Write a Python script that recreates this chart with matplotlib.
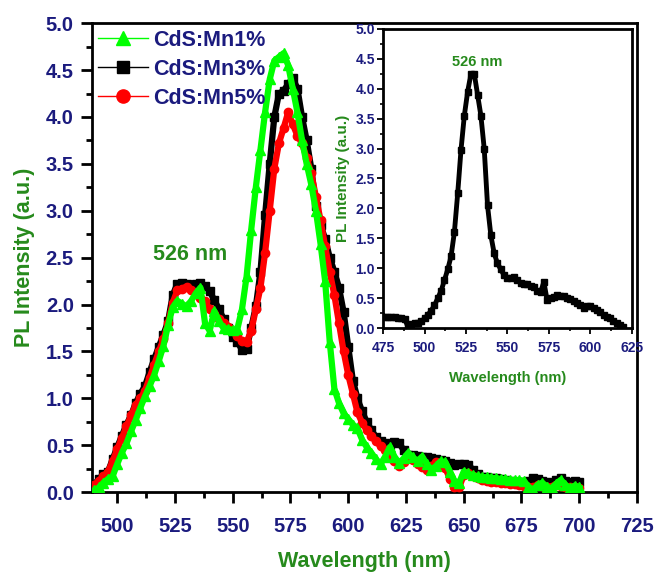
import numpy as np
import matplotlib
matplotlib.use("Agg")
import matplotlib.pyplot as plt
from matplotlib.ticker import MultipleLocator
from matplotlib.lines import Line2D

# ---------------- data ----------------
wl_main = list(range(490, 702, 2))

mn1 = [0.02, 0.05, 0.10, 0.14, 0.17, 0.30, 0.42, 0.52, 0.65, 0.77,
       0.90, 1.02, 1.13, 1.25, 1.40, 1.56, 1.78, 1.97, 2.04, 2.01,
       1.98, 2.04, 2.12, 2.18, 1.80, 1.72, 1.93, 1.82, 1.75, 1.74,
       1.73, 1.74, 1.95, 2.30, 2.80, 3.25, 3.65, 4.05, 4.40, 4.60,
       4.64, 4.68, 4.55, 4.30, 4.05, 3.75, 3.50, 3.28, 3.00, 2.65,
       2.25, 1.60, 1.10, 0.95, 0.84, 0.78, 0.72, 0.68, 0.56, 0.48,
       0.42, 0.35, 0.30, 0.38, 0.48, 0.38, 0.31, 0.36, 0.42, 0.37,
       0.33, 0.38, 0.30, 0.24, 0.28, 0.33, 0.32, 0.22, 0.12, 0.10,
       0.22, 0.20, 0.18, 0.17, 0.16, 0.16, 0.15, 0.15, 0.14, 0.14,
       0.13, 0.13, 0.13, 0.12, 0.06, 0.02, 0.08, 0.10, 0.06, 0.04,
       0.09, 0.13, 0.08, 0.04, 0.07, 0.05]

mn3 = [0.08, 0.14, 0.19, 0.22, 0.35, 0.48, 0.60, 0.72, 0.82, 0.95,
       1.05, 1.13, 1.28, 1.42, 1.55, 1.68, 1.82, 2.10, 2.22, 2.23,
       2.22, 2.20, 2.22, 2.23, 2.20, 2.14, 2.05, 1.95, 1.85, 1.75,
       1.65, 1.60, 1.52, 1.53, 1.75, 1.98, 2.35, 2.95, 3.50, 4.00,
       4.25, 4.28, 4.35, 4.42, 4.30, 4.00, 3.75, 3.45, 3.05, 2.85,
       2.70, 2.50, 2.35, 2.18, 1.92, 1.55, 1.19, 1.00, 0.86, 0.75,
       0.66, 0.59, 0.55, 0.52, 0.50, 0.53, 0.52, 0.45, 0.40, 0.40,
       0.39, 0.38, 0.37, 0.36, 0.35, 0.34, 0.33, 0.31, 0.29, 0.30,
       0.30, 0.29, 0.24, 0.19, 0.16, 0.16, 0.15, 0.15, 0.14, 0.13,
       0.12, 0.11, 0.11, 0.10, 0.12, 0.15, 0.14, 0.12, 0.11, 0.10,
       0.13, 0.15, 0.12, 0.11, 0.12, 0.11]

mn5 = [0.08, 0.12, 0.17, 0.22, 0.33, 0.46, 0.58, 0.70, 0.82, 0.93,
       1.00, 1.08, 1.22, 1.36, 1.50, 1.63, 1.80, 2.02, 2.15, 2.17,
       2.19, 2.15, 2.12, 2.07, 2.04, 1.95, 1.90, 1.85, 1.80, 1.76,
       1.72, 1.66, 1.61, 1.60, 1.72, 1.95, 2.18, 2.55, 3.00, 3.45,
       3.72, 3.88, 4.05, 3.92, 3.80, 3.72, 3.56, 3.40, 3.15, 2.90,
       2.62, 2.35, 2.10, 1.80, 1.50, 1.25, 1.05, 0.85, 0.74, 0.66,
       0.60, 0.54, 0.49, 0.45, 0.40, 0.33, 0.28, 0.32, 0.36, 0.34,
       0.30, 0.27, 0.24, 0.28, 0.32, 0.30, 0.26, 0.14, 0.06, 0.05,
       0.18, 0.20, 0.17, 0.15, 0.13, 0.12, 0.11, 0.11, 0.10, 0.10,
       0.09, 0.09, 0.08, 0.07, 0.06, 0.05, 0.08, 0.07, 0.05, 0.06,
       0.08, 0.07, 0.06, 0.05, 0.05, 0.04]

wl_inset = list(range(474, 622, 2))
inset_pl = [0.20, 0.18, 0.18, 0.18, 0.18, 0.17, 0.17, 0.15, 0.02, 0.06,
            0.09, 0.09, 0.11, 0.16, 0.22, 0.29, 0.38, 0.50, 0.62, 0.80,
            0.98, 1.20, 1.60, 2.25, 2.98, 3.55, 3.95, 4.25, 4.25, 3.90,
            3.55, 3.00, 2.05, 1.55, 1.25, 1.08, 0.98, 0.88, 0.83, 0.84,
            0.86, 0.80, 0.75, 0.74, 0.73, 0.70, 0.68, 0.62, 0.60, 0.77,
            0.46, 0.50, 0.52, 0.55, 0.54, 0.53, 0.50, 0.48, 0.45, 0.41,
            0.38, 0.33, 0.36, 0.37, 0.34, 0.30, 0.26, 0.22, 0.19, 0.16,
            0.12, 0.08, 0.05, 0.02]

labels = ["CdS:Mn1%", "CdS:Mn3%", "CdS:Mn5%"]

# ---------------- style ----------------
NAVY = "#1b1b7e"
GREEN = "#268a1c"
LIME = "#00ff00"
FONT = ["Liberation Sans", "DejaVu Sans"]
NARROW = ["Liberation Sans Narrow", "Liberation Sans", "DejaVu Sans"]

fig = plt.figure(figsize=(6.56, 5.79), dpi=100)
ax = fig.add_axes([0.140, 0.150, 0.831, 0.810])

ax.plot(wl_main, mn3, color="black", lw=4.5, marker="s", ms=5.5,
        mec="black", mfc="black", zorder=2, solid_joinstyle="round")
ax.plot(wl_main, mn5, color="red", lw=4.5, marker="o", ms=6,
        mec="red", mfc="red", zorder=3, solid_joinstyle="round")
ax.plot(wl_main, mn1, color=LIME, lw=4.5, marker="^", ms=7,
        mec=LIME, mfc=LIME, zorder=4, solid_joinstyle="round")

ax.set_xlim(489, 725)
ax.set_ylim(0, 5.0)
ax.xaxis.set_minor_locator(MultipleLocator(12.5))
ax.yaxis.set_minor_locator(MultipleLocator(0.25))
ax.tick_params(axis="both", which="major", direction="out", length=8,
               width=2, colors="black", pad=5)
ax.tick_params(axis="x", which="major", pad=10)
ax.tick_params(axis="both", which="minor", direction="out", length=4.5,
               width=2, colors="black")
ax.tick_params(top=False, right=False, which="both")
xt = [500, 525, 550, 575, 600, 625, 650, 675, 700, 725]
ax.set_xticks(xt)
ax.set_xticklabels([str(v) for v in xt], fontweight="bold", family=FONT,
                   color=NAVY, fontsize=14.5)
yt = [0, 0.5, 1.0, 1.5, 2.0, 2.5, 3.0, 3.5, 4.0, 4.5, 5.0]
ax.set_yticks(yt)
ax.set_yticklabels([f"{v:.1f}" for v in yt], fontweight="bold", family=FONT,
                   color=NAVY, fontsize=14.5)
for s in ax.spines.values():
    s.set_linewidth(2)

ax.set_xlabel("Wavelength (nm)", fontsize=15.5, fontweight="bold",
              color=GREEN, family=FONT, labelpad=11)
ax.set_ylabel("PL Intensity (a.u.)", fontsize=15.5, fontweight="bold",
              color=GREEN, family=FONT, labelpad=8)

ax.text(531.6, 2.53, "526 nm", fontsize=15.5, fontweight="bold", color=GREEN,
        family=FONT, ha="center", va="center")

leg_handles = [
    Line2D([], [], color=LIME, lw=1, marker="^", ms=10.5, mec=LIME, mfc=LIME),
    Line2D([], [], color="black", lw=1, marker="s", ms=8.5, mec="black", mfc="black"),
    Line2D([], [], color="red", lw=1, marker="o", ms=9.5, mec="red", mfc="red"),
]
leg = ax.legend(leg_handles, labels,
                loc="upper left", frameon=False, borderaxespad=0.0,
                borderpad=0.3, handlelength=2.3, handletextpad=0.25,
                labelspacing=0.38,
                prop={"family": FONT, "weight": "bold", "size": 15.5})
for t in leg.get_texts():
    t.set_color(NAVY)

# ---------------- inset ----------------
ins = fig.add_axes([0.584, 0.4335, 0.379, 0.5165])
ins.plot(wl_inset, inset_pl, color="black", lw=3.5, marker="s", ms=4.5,
         mec="black", mfc="black", solid_joinstyle="round")
ins.set_xlim(475, 625)
ins.set_ylim(0, 5.0)
ins.xaxis.set_minor_locator(MultipleLocator(12.5))
ins.yaxis.set_minor_locator(MultipleLocator(0.25))
ins.tick_params(axis="both", which="major", direction="out", length=4,
                width=1.3, colors="black", pad=2)
ins.tick_params(axis="x", which="major", pad=5)
ins.tick_params(axis="both", which="minor", direction="out", length=2.5,
                width=1.2, colors="black")
ins.tick_params(top=False, right=False, which="both")
xt_in = [475, 500, 525, 550, 575, 600, 625]
ins.set_xticks(xt_in)
ins.set_xticklabels([str(v) for v in xt_in], fontweight="bold", family=NARROW,
                    color=NAVY, fontsize=10)
ins.set_yticks(yt)
ins.set_yticklabels([f"{v:.1f}" for v in yt], fontweight="bold", family=NARROW,
                    color=NAVY, fontsize=10)
for s in ins.spines.values():
    s.set_linewidth(2)
ins.set_xlabel("Wavelength (nm)", fontsize=10.5, fontweight="bold", color=GREEN,
               family=NARROW, labelpad=12)
ins.set_ylabel("PL Intensity (a.u.)", fontsize=11, fontweight="bold",
               color=GREEN, family=FONT, labelpad=4)
ins.text(531.6, 4.45, "526 nm", fontsize=10.5, fontweight="bold", color=GREEN,
         family=NARROW, ha="center", va="center")

fig.savefig("out.png", dpi=100)
